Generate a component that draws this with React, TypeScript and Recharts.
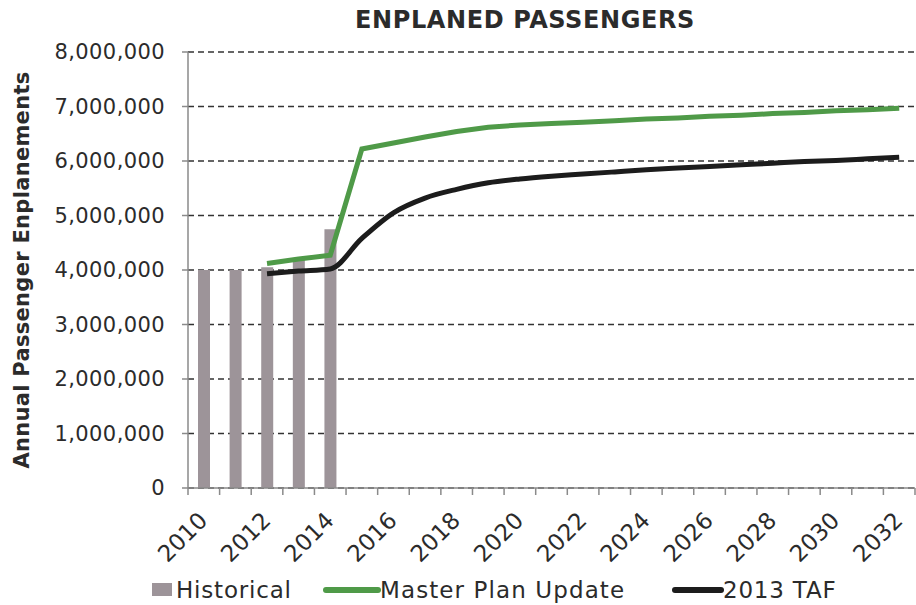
import { ComposedChart, Bar, Line, XAxis, YAxis, CartesianGrid } from "recharts";

const years = [
  "2010", "2011", "2012", "2013", "2014", "2015", "2016", "2017",
  "2018", "2019", "2020", "2021", "2022", "2023", "2024", "2025",
  "2026", "2027", "2028", "2029", "2030", "2031", "2032",
];

// historical enplanements (bars)
const historical = [
  4000000, 4000000, 4050000, 4200000, 4750000, null, null, null,
  null, null, null, null, null, null, null, null,
  null, null, null, null, null, null, null,
];

const masterPlanUpdate = [
  null, null, 4120000, 4200000, 4270000, 6220000, 6330000, 6440000,
  6540000, 6620000, 6660000, 6690000, 6710000, 6740000, 6770000, 6790000,
  6820000, 6840000, 6870000, 6890000, 6920000, 6940000, 6970000,
];

const taf2013 = [
  null, null, 3930000, 3980000, 4020000, 4580000, 5050000, 5320000,
  5480000, 5600000, 5670000, 5720000, 5760000, 5800000, 5840000, 5870000,
  5900000, 5930000, 5960000, 5990000, 6010000, 6040000, 6070000,
];

const yTicks = [0, 1000000, 2000000, 3000000, 4000000, 5000000, 6000000, 7000000, 8000000];

const data = years.map((year, i) => ({
  year,
  historical: historical[i],
  masterPlan: masterPlanUpdate[i],
  taf: taf2013[i],
}));

const FONT = "'DejaVu Sans', sans-serif";
const TEXT = "#2b2b2b";
const AXIS = "#8a8a8a";
const GREEN = "#4f9a48";
const BLACK = "#1c1c1c";
const BAR = "#9d9499";
const PLOT_LEFT = 188;
const PLOT_RIGHT = 915;
const BAND = (PLOT_RIGHT - PLOT_LEFT) / years.length;

function YearTick(props: any) {
  const { x, y, payload } = props;
  const half = BAND / 2;
  const tx = x + 5;
  const ty = y + 34;
  return (
    <g>
      <line x1={x - half} y1={y} x2={x - half} y2={y + 7} stroke={AXIS} strokeWidth={1.5} />
      <line x1={x + half} y1={y} x2={x + half} y2={y + 7} stroke={AXIS} strokeWidth={1.5} />
      <text
        x={tx}
        y={ty}
        textAnchor="end"
        fontSize={23}
        fontFamily={FONT}
        fill={TEXT}
        transform={`rotate(-45, ${tx}, ${ty})`}
      >
        {payload.value}
      </text>
    </g>
  );
}

function LegendRow() {
  const label = {
    position: "absolute" as const,
    top: 577,
    fontSize: 23,
    fontFamily: FONT,
    color: TEXT,
    lineHeight: "26px",
    whiteSpace: "nowrap" as const,
  };
  return (
    <>
      <div style={{ position: "absolute", left: 152, top: 583, width: 20, height: 13, background: BAR }} />
      <div style={{ ...label, left: 176, letterSpacing: 0.8 }}>Historical</div>
      <div style={{ position: "absolute", left: 323, top: 587, width: 58, height: 6, borderRadius: 3, background: GREEN }} />
      <div style={{ ...label, left: 380, letterSpacing: 1.1 }}>Master Plan Update</div>
      <div style={{ position: "absolute", left: 672, top: 587, width: 52, height: 6, borderRadius: 3, background: BLACK }} />
      <div style={{ ...label, left: 723, letterSpacing: 0.8 }}>2013 TAF</div>
    </>
  );
}

export default function App() {
  return (
    <div style={{ position: "absolute", left: 0, top: 0, width: 916, height: 605, background: "#fff", overflow: "hidden" }}>
      <div
        style={{
          position: "absolute",
          left: 0,
          width: 1050,
          top: 6,
          textAlign: "center",
          fontFamily: FONT,
          fontWeight: "bold",
          fontSize: 24,
          color: TEXT,
          letterSpacing: 0.6,
        }}
      >
        ENPLANED PASSENGERS
      </div>
      <ComposedChart width={916} height={605} data={data} margin={{ top: 52, right: 916 - PLOT_RIGHT, bottom: 0, left: 0 }}>
        <CartesianGrid vertical={false} stroke="#333" strokeDasharray="6 4" strokeWidth={1.6} />
        <XAxis
          dataKey="year"
          height={117}
          interval={1}
          stroke={AXIS}
          strokeWidth={1.5}
          tickLine={false}
          tickSize={0}
          tickMargin={0}
          tick={<YearTick />}
        />
        <YAxis
          width={PLOT_LEFT}
          domain={[0, 8000000]}
          ticks={yTicks}
          stroke={AXIS}
          strokeWidth={1.5}
          tickSize={6}
          tickMargin={17}
          tickFormatter={(v: number) => v.toLocaleString("en-US")}
          tick={{ fontSize: 21, fontFamily: FONT, fill: TEXT, letterSpacing: 0.4 }}
          label={{
            value: "Annual Passenger Enplanements",
            angle: -90,
            position: "insideLeft",
            offset: 22,
            style: { textAnchor: "middle", fontSize: 21, fontWeight: "bold", fontFamily: FONT, fill: TEXT, letterSpacing: 0.3 },
          }}
        />
        <Bar dataKey="historical" fill={BAR} barSize={12} isAnimationActive={false} />
        <Line
          dataKey="masterPlan"
          type="linear"
          stroke={GREEN}
          strokeWidth={5}
          dot={false}
          isAnimationActive={false}
        />
        <Line
          dataKey="taf"
          type="monotone"
          stroke={BLACK}
          strokeWidth={5}
          dot={false}
          isAnimationActive={false}
        />
      </ComposedChart>
      <LegendRow />
    </div>
  );
}
